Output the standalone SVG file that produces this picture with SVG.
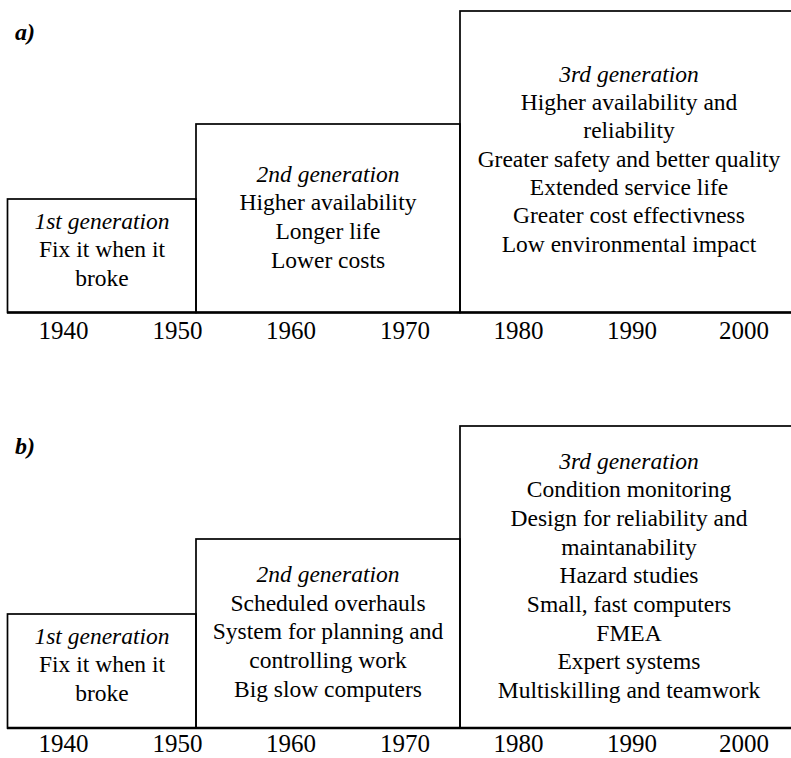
<svg xmlns="http://www.w3.org/2000/svg" width="791" height="758" viewBox="0 0 791 758" font-family="'Liberation Serif','Times New Roman',serif">
<style>
.box{fill:none;stroke:#000;stroke-width:1.7}
.axis{stroke:#000;stroke-width:2.6}
text{font-family:"Liberation Serif","Times New Roman",serif;fill:#000}
.t{font-size:23.5px;text-anchor:middle}
.g{font-style:italic}
.yr{font-size:25px;text-anchor:middle}
.lab{font-size:24px;font-weight:bold;font-style:italic}
</style>
<rect width="791" height="758" fill="#fff"/>
<!-- Panel a -->
<text class="lab" x="15" y="40">a)</text>
<g id="a-gen1">
<rect class="box" x="7.5" y="199" width="188.5" height="113.5"/>
<text class="t g" x="102" y="229">1st generation</text>
<text class="t" x="102" y="257">Fix it when it</text>
<text class="t" x="102" y="286">broke</text>
</g>
<g id="a-gen2">
<rect class="box" x="196" y="124" width="264" height="188.5"/>
<text class="t g" x="328" y="182">2nd generation</text>
<text class="t" x="328" y="210">Higher availability</text>
<text class="t" x="328" y="239">Longer life</text>
<text class="t" x="328" y="268">Lower costs</text>
</g>
<g id="a-gen3">
<rect class="box" x="460" y="11" width="340" height="301.5"/>
<text class="t g" x="629" y="82">3rd generation</text>
<text class="t" x="629" y="110">Higher availability and</text>
<text class="t" x="629" y="138">reliability</text>
<text class="t" x="629" y="167">Greater safety and better quality</text>
<text class="t" x="629" y="195">Extended service life</text>
<text class="t" x="629" y="223">Greater cost effectivness</text>
<text class="t" x="629" y="252">Low environmental impact</text>
</g>
<g id="a-axis">
<line class="axis" x1="7" y1="312.5" x2="791" y2="312.5"/>
<text class="yr" x="63.5" y="339">1940</text>
<text class="yr" x="177.5" y="339">1950</text>
<text class="yr" x="291" y="339">1960</text>
<text class="yr" x="405" y="339">1970</text>
<text class="yr" x="518.5" y="339">1980</text>
<text class="yr" x="632" y="339">1990</text>
<text class="yr" x="744" y="339">2000</text>
</g>
<!-- Panel b -->
<text class="lab" x="15" y="454">b)</text>
<g id="b-gen1">
<rect class="box" x="7.5" y="614" width="188.5" height="114"/>
<text class="t g" x="102" y="644">1st generation</text>
<text class="t" x="102" y="672">Fix it when it</text>
<text class="t" x="102" y="701">broke</text>
</g>
<g id="b-gen2">
<rect class="box" x="196" y="539" width="264" height="189"/>
<text class="t g" x="328" y="582">2nd generation</text>
<text class="t" x="328" y="611">Scheduled overhauls</text>
<text class="t" x="328" y="639">System for planning and</text>
<text class="t" x="328" y="668">controlling work</text>
<text class="t" x="328" y="697">Big slow computers</text>
</g>
<g id="b-gen3">
<rect class="box" x="460" y="426" width="340" height="302"/>
<text class="t g" x="629" y="469">3rd generation</text>
<text class="t" x="629" y="497">Condition monitoring</text>
<text class="t" x="629" y="526">Design for reliability and</text>
<text class="t" x="629" y="555">maintanability</text>
<text class="t" x="629" y="583">Hazard studies</text>
<text class="t" x="629" y="612">Small, fast computers</text>
<text class="t" x="629" y="641">FMEA</text>
<text class="t" x="629" y="669">Expert systems</text>
<text class="t" x="629" y="698">Multiskilling and teamwork</text>
</g>
<g id="b-axis">
<line class="axis" x1="7" y1="728" x2="791" y2="728"/>
<text class="yr" x="63.5" y="752">1940</text>
<text class="yr" x="177.5" y="752">1950</text>
<text class="yr" x="291" y="752">1960</text>
<text class="yr" x="405" y="752">1970</text>
<text class="yr" x="518.5" y="752">1980</text>
<text class="yr" x="632" y="752">1990</text>
<text class="yr" x="744" y="752">2000</text>
</g>
<g id="connectors"></g>
</svg>
